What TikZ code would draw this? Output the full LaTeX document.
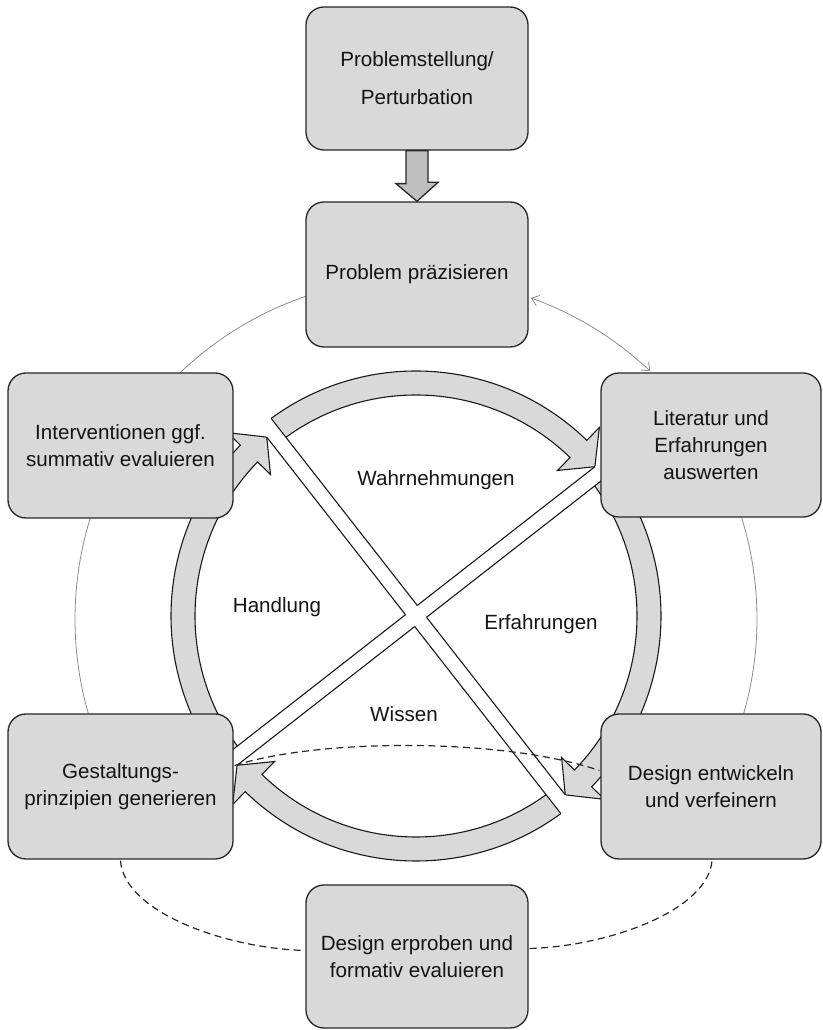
\documentclass[tikz,border=0pt]{standalone}
\usepackage{fontspec}
\setmainfont{Liberation Sans}
\usetikzlibrary{calc,arrows.meta}
\definecolor{boxfill}{HTML}{D9D9D9}
\definecolor{arrfill}{HTML}{BFBFBF}
\definecolor{thinline}{HTML}{8C8C8C}
\definecolor{txt}{HTML}{141414}
\newcommand{\ringarrow}[3]{%
  \filldraw[ring] ($(C)+(#1:245pt)$) arc[start angle=#1, end angle=#2, radius=245pt]
    -- ($(C)+(#2:263pt)$) -- ($(C)+(#3:233pt)$) -- ($(C)+(#2:203pt)$) -- ($(C)+(#2:221pt)$)
    arc[start angle=#2, end angle=#1, radius=221pt] -- cycle;}
\newcommand{\bandedgeline}[3]{%
  \draw[bandedge] ($(C)+(#1:7.5pt)+(#2:7.5pt)$) -- ($(C)+(#1:#3pt)+(#2:7.5pt)$);}
\begin{document}
\begin{tikzpicture}[x=1pt,y=1pt,
  box/.style={draw=black!85, line width=1.3pt, fill=boxfill, rounded corners=18pt,
    align=center, inner sep=0pt, text=txt, font=\fontsize{20.6}{27}\selectfont},
  ring/.style={draw=black!90, line width=1.1pt, fill=boxfill},
  bandedge/.style={draw=black!90, line width=1.1pt},
  thincirc/.style={draw=thinline, line width=0.8pt},
  dashcurve/.style={draw=black!85, line width=1.2pt, dash pattern=on 7pt off 4.5pt},
  bigarr/.style={draw=black!85, line width=1.3pt, fill=arrfill},
  lbl/.style={text=txt, font=\fontsize{20.6}{24}\selectfont}]

\useasboundingbox (0,0) rectangle (822,1030);
\coordinate (C) at (416,414);
\coordinate (T) at (416,411);

% ring arrows (tail, base, tip)
\ringarrow{128}{45.8}{39.84}
\ringarrow{38}{-44.2}{-50.16}
\ringarrow{308}{225.8}{219.84}
\ringarrow{218}{135.8}{129.84}

% white bands
\fill[white] ($(C)+(128:250pt)+(38:7.5pt)$) -- ($(C)+(128:250pt)+(218:7.5pt)$)
  -- ($(C)+(-52:250pt)+(218:7.5pt)$) -- ($(C)+(-52:250pt)+(38:7.5pt)$) -- cycle;
\fill[white] ($(C)+(38:250pt)+(128:7.5pt)$) -- ($(C)+(38:250pt)+(-52:7.5pt)$)
  -- ($(C)+(218:250pt)+(-52:7.5pt)$) -- ($(C)+(218:250pt)+(128:7.5pt)$) -- cycle;
\bandedgeline{128}{38}{245}
\bandedgeline{-52}{38}{233}
\bandedgeline{128}{218}{233}
\bandedgeline{-52}{218}{245}
\bandedgeline{38}{128}{233}
\bandedgeline{218}{128}{250}
\bandedgeline{38}{-52}{250}
\bandedgeline{218}{-52}{233}

% thin outer circle pieces
\coordinate (da) at ($(T)+(70.3:341pt)$);
\coordinate (p1) at ($(T)+(100:341pt)$);
\coordinate (p2) at ($(T)+(150:341pt)$);
\coordinate (p3) at ($(T)+(-30:341pt)$);
\draw[thincirc, {Straight Barb[length=7pt,width=11pt]}-{Straight Barb[length=7pt,width=11pt]}]
  (da) arc[start angle=70.3, end angle=46.6, radius=341pt];
\draw[thincirc] (p1) arc[start angle=100, end angle=140, radius=341pt];
\draw[thincirc] (p2) arc[start angle=150, end angle=210, radius=341pt];
\draw[thincirc] (p3) arc[start angle=-30, end angle=30, radius=341pt];

% boxes
\node[box, minimum width=222pt, minimum height=143pt, font=\fontsize{20.6}{38}\selectfont] (top) at (417,951.5) {Problemstellung/\\Perturbation};
\node[box, minimum width=222pt, minimum height=145pt] (prob) at (417,755.5) {Problem präzisieren};
\node[box, minimum width=225pt, minimum height=145pt] (interv) at (120.5,584.5) {Interventionen ggf.\\summativ evaluieren};
\node[box, minimum width=220pt, minimum height=144pt] (lit) at (711,585) {Literatur und\\Erfahrungen\\auswerten};
\node[box, minimum width=220pt, minimum height=145pt] (design) at (711,243.5) {Design entwickeln\\und verfeinern};
\node[box, minimum width=225pt, minimum height=145pt] (gest) at (120.5,243.5) {Gestaltungs-\\prinzipien generieren};
\node[box, minimum width=222pt, minimum height=143pt] (bottom) at (417,73.5) {Design erproben und\\formativ evaluieren};

% dashed curves
\draw[dashcurve] ($(gest.east)+(1,21)$) .. controls (320,292) and (505,292) .. ($(design.west)+(-1,16)$);
\draw[dashcurve] ($(gest.south)+(0,-1)$) .. controls (124,118) and (225,82) .. ($(bottom.west)+(-1,6)$);
\draw[dashcurve] ($(bottom.east)+(1,8)$) .. controls (610,84) and (708,120) .. ($(design.south)+(1,-1)$);

% big down arrow
\draw[bigarr] ($(top.south)+(-11,0)$) -- ++(0,-33) -- ++(-10,0) -- (prob.north)
  -- ++(21,19) -- ++(-10,0) -- ($(top.south)+(11,0)$) -- cycle;

% inner labels
\node[lbl] (lwa) at (436,550) {Wahrnehmungen};
\node[lbl] (lha) at (277,423) {Handlung};
\node[lbl] (ler) at (541,406) {Erfahrungen};
\node[lbl] (lwi) at (404,316) {Wissen};
\end{tikzpicture}
\end{document}
